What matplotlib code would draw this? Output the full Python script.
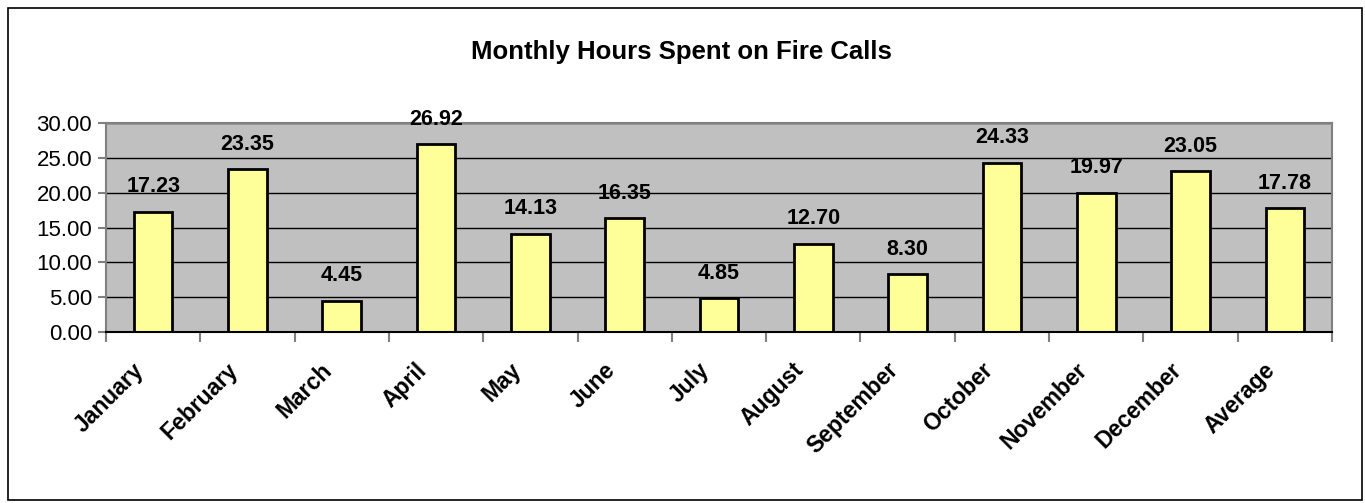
import numpy as np
import matplotlib.pyplot as plt
import matplotlib.transforms as mtransforms

months = ['January', 'February', 'March', 'April', 'May', 'June', 'July',
          'August', 'September', 'October', 'November', 'December', 'Average']
hours = [17.23, 23.35, 4.45, 26.92, 14.13, 16.35, 4.85,
         12.70, 8.30, 24.33, 19.97, 23.05, 17.78]

plt.rcParams['font.family'] = ['Liberation Sans', 'DejaVu Sans']

fig = plt.figure(figsize=(13.65, 5.03), dpi=100)
ax = fig.add_axes([106/1365, 1-332/503, (1332-106)/1365, (332-123)/503])

# outer chart border
fig.patches.append(plt.Rectangle((8/1365, 1-500/503), (1362-8)/1365, (500-8)/503,
                                 transform=fig.transFigure, fill=False,
                                 edgecolor='black', linewidth=1.2))

x = np.arange(len(months))
ax.set_facecolor('#C0C0C0')
ax.set_axisbelow(True)
ax.yaxis.grid(True, color='black', linewidth=1)
bars = ax.bar(x, hours, width=0.41, color='#FFFF99', edgecolor='black', linewidth=2)

for xi, h in zip(x, hours):
    ax.annotate('%.2f' % h, (xi, h), xytext=(0, 10.5), textcoords='offset points',
                ha='center', va='bottom', fontsize=15.5, fontweight='bold')

ax.set_xlim(-0.5, len(months) - 0.5)
ax.set_ylim(0, 30)
ax.set_yticks(np.arange(0, 31, 5))
ax.set_yticklabels(['%.2f' % v for v in np.arange(0, 31, 5)], fontsize=16)

# boundary ticks between categories, labels at the centres
ax.set_xticks(np.append(x - 0.5, len(months) - 0.5))
ax.set_xticklabels([])
ax.set_xticks(x, minor=True)
ax.set_xticklabels(months, minor=True, rotation=45, ha='right',
                   rotation_mode='anchor', fontsize=16.5, fontweight='bold')
ax.tick_params(axis='x', which='minor', length=0, pad=19)
ax.tick_params(axis='x', which='major', length=7, color='#808080', width=1.5)
ax.tick_params(axis='y', length=6, color='#808080', width=1.5, pad=4)

shift = mtransforms.ScaledTranslation(-21/100, 0, fig.dpi_scale_trans)
for lab in ax.get_xticklabels(minor=True):
    lab.set_transform(lab.get_transform() + shift)

for s in ['top', 'right', 'left']:
    ax.spines[s].set_color('#808080')
    ax.spines[s].set_linewidth(1.5)
ax.spines['bottom'].set_color('black')
ax.spines['bottom'].set_linewidth(1.5)

fig.text(681/1365, 1-52/503, 'Monthly Hours Spent on Fire Calls',
         ha='center', va='center', fontsize=18.5, fontweight='bold')

fig.savefig('out.png', dpi=100)
